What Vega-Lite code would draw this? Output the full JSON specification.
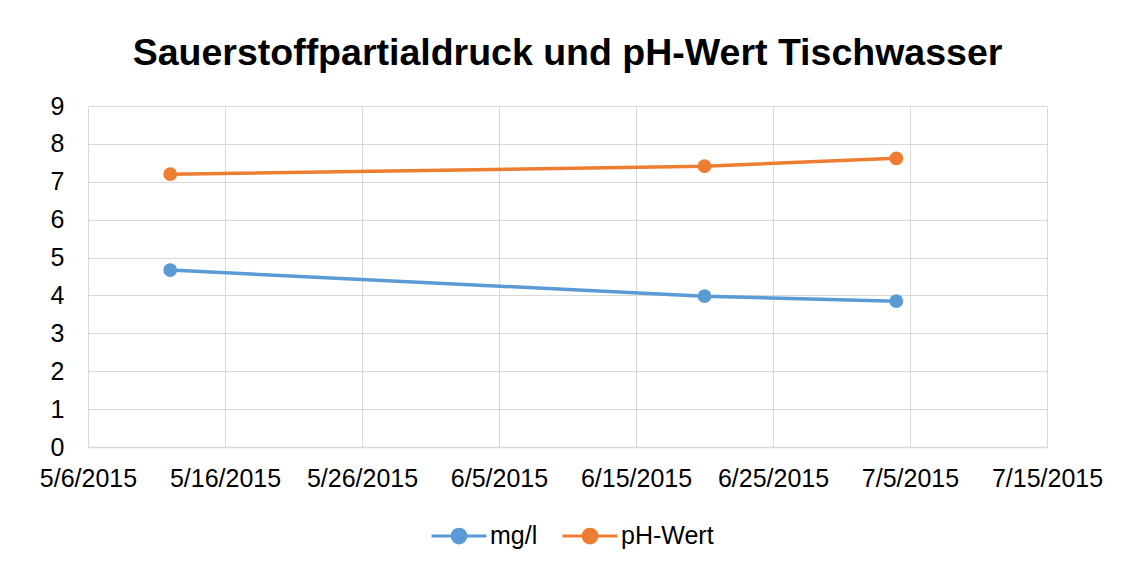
{
  "$schema": "https://vega.github.io/schema/vega-lite/v6.json",
  "autosize": "none",
  "width": 959,
  "height": 341,
  "padding": {"left": 88, "top": 106, "right": 83, "bottom": 117},
  "background": "white",
  "title": {
    "text": "Sauerstoffpartialdruck und pH-Wert Tischwasser",
    "font": "Liberation Sans",
    "fontSize": 37.5,
    "fontWeight": "bold",
    "color": "#000000",
    "offset": 22
  },
  "data": {
    "values": [
      {"date": "2015-05-12", "series": "mg/l", "value": 4.67},
      {"date": "2015-06-20", "series": "mg/l", "value": 3.98},
      {"date": "2015-07-04", "series": "mg/l", "value": 3.85},
      {"date": "2015-05-12", "series": "pH-Wert", "value": 7.2},
      {"date": "2015-06-20", "series": "pH-Wert", "value": 7.41},
      {"date": "2015-07-04", "series": "pH-Wert", "value": 7.62}
    ]
  },
  "encoding": {
    "x": {
      "field": "date",
      "type": "temporal",
      "scale": {"type": "utc", "domain": [{"year": 2015, "month": 5, "date": 6, "utc": true}, {"year": 2015, "month": 7, "date": 15, "utc": true}]},
      "axis": {
        "title": null,
        "values": [
          {"year": 2015, "month": 5, "date": 6, "utc": true},
          {"year": 2015, "month": 5, "date": 16, "utc": true},
          {"year": 2015, "month": 5, "date": 26, "utc": true},
          {"year": 2015, "month": 6, "date": 5, "utc": true},
          {"year": 2015, "month": 6, "date": 15, "utc": true},
          {"year": 2015, "month": 6, "date": 25, "utc": true},
          {"year": 2015, "month": 7, "date": 5, "utc": true},
          {"year": 2015, "month": 7, "date": 15, "utc": true}
        ],
        "labelExpr": "utcFormat(datum.value, '%-m/%-d/%Y')",
        "grid": true,
        "gridColor": "#d9d9d9",
        "domainColor": "#d9d9d9",
        "domainWidth": 1.5,
        "ticks": false,
        "labelPadding": 19,
        "labelFlush": false,
        "labelOverlap": false
      }
    },
    "y": {
      "field": "value",
      "type": "quantitative",
      "scale": {"domain": [0, 9], "nice": false},
      "axis": {
        "title": null,
        "values": [0, 1, 2, 3, 4, 5, 6, 7, 8, 9],
        "grid": true,
        "gridColor": "#d9d9d9",
        "domain": false,
        "ticks": false,
        "labelPadding": 24
      }
    },
    "color": {
      "field": "series",
      "type": "nominal",
      "scale": {"domain": ["mg/l", "pH-Wert"], "range": ["#5B9BD5", "#ED7D31"]},
      "legend": {
        "title": null,
        "orient": "none",
        "direction": "horizontal",
        "legendX": 342,
        "legendY": 401,
        "symbolType": "M-1,0H-0.25M0.25,0H1M0.25,0A0.25,0.25 0 1,1 -0.25,0A0.25,0.25 0 1,1 0.25,0",
        "symbolSize": 3025,
        "symbolStrokeWidth": 3,
        "symbolOpacity": 1,
        "labelFontSize": 25,
        "labelFont": "Liberation Sans",
        "labelColor": "#000000",
        "columnPadding": 18,
        "labelOffset": 2
      }
    }
  },
  "layer": [
    {"mark": {"type": "line", "strokeWidth": 3.5}},
    {"mark": {"type": "point", "filled": true, "size": 190, "opacity": 1}}
  ],
  "config": {
    "view": {"stroke": null},
    "axis": {"labelFont": "Liberation Sans", "labelFontSize": 25, "labelColor": "#000000"}
  }
}
